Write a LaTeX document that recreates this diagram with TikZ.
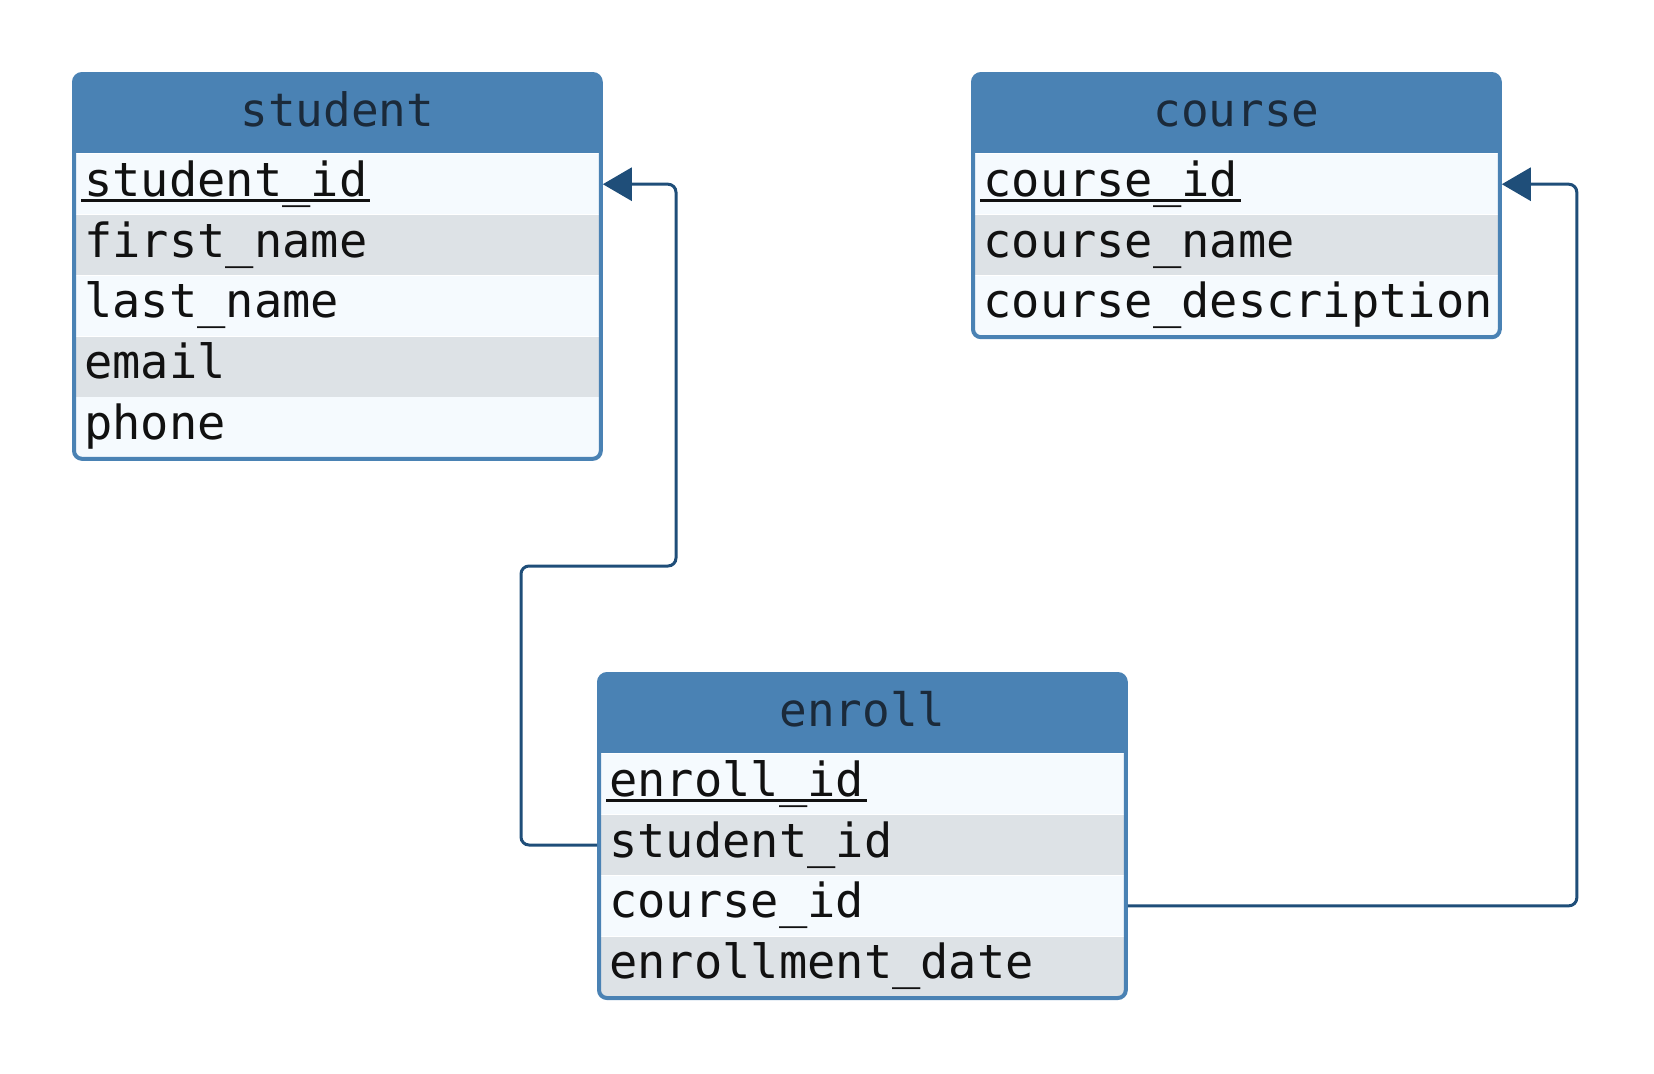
\documentclass[tikz,border=0pt]{standalone}
\usepackage{fontspec}
\setmonofont{DejaVu Sans Mono}
\usetikzlibrary{positioning,fit,arrows.meta}
\definecolor{headblue}{HTML}{4A82B4}
\definecolor{rowlight}{HTML}{F5FAFE}
\definecolor{rowdark}{HTML}{DDE2E6}
\definecolor{linkblue}{HTML}{1F4E79}
\definecolor{headtext}{HTML}{1B2A3A}
\definecolor{fieldtext}{HTML}{111111}
% key field: underlined just below the baseline
\newcommand{\pkey}[1]{\setbox0\hbox{#1}\hbox{\kern-1.5pt\rlap{\rule[-2.8pt]{\dimexpr\wd0+3pt\relax}{1.3pt}}\kern1.5pt\box0}}

\begin{document}
\begin{tikzpicture}[x=0.5pt, y=-0.5pt, node distance=0pt,
        header/.style={fill=headblue, text=headtext, minimum width=262pt, minimum height=39pt,
            inner sep=0pt, text height=17pt, text depth=5pt,
            font=\ttfamily\fontsize{23}{28}\selectfont},
        field/.style={minimum width=262pt, minimum height=30pt, inner xsep=4.5pt, inner ysep=0pt,
            text width=253pt, align=left, text height=17pt, text depth=5pt, text=fieldtext,
            font=\ttfamily\fontsize{23.5}{28}\selectfont},
        light/.style={field, fill=rowlight},
        dark/.style={field, fill=rowdark},
        frame/.style={draw=headblue, line width=2pt, rounded corners=4pt, inner sep=0.5pt},
        link/.style={draw=linkblue, line width=1.5pt, rounded corners=4pt,
            -{Triangle[length=14.5pt, width=16.5pt]}}]
        \useasboundingbox (0,0) rectangle (1654,1073);

        % student
        \node[header, anchor=north west] (student) at (75,75) {student};
        \node[light, below = of student] (student-id) {\pkey{student\_id}};
        \node[dark, below = of student-id] (student-first) {first\_name};
        \node[light, below = of student-first] (student-last) {last\_name};
        \node[dark, below = of student-last] (student-email) {email};
        \node[light, below = of student-email] (student-phone) {phone};
        \node[frame, fit=(student)(student-phone)] (student-box) {};

        % course
        \node[header, anchor=north west] (course) at (974,75) {course};
        \node[light, below = of course] (course-id) {\pkey{course\_id}};
        \node[dark, below = of course-id] (course-name) {course\_name};
        \node[light, below = of course-name] (course-desc) {course\_description};
        \node[frame, fit=(course)(course-desc)] (course-box) {};

        % enroll
        \node[header, anchor=north west] (enroll) at (600,675) {enroll};
        \node[light, below = of enroll] (enroll-id) {\pkey{enroll\_id}};
        \node[dark, below = of enroll-id] (enroll-sid) {student\_id};
        \node[light, below = of enroll-sid] (enroll-cid) {course\_id};
        \node[dark, below = of enroll-cid] (enroll-date) {enrollment\_date};
        \node[frame, fit=(enroll)(enroll-date)] (enroll-box) {};

        \coordinate (sbend) at (676,566);
        \coordinate[right = 39pt of course-id.east] (cbend);
        \draw[link] ([xshift=-1.5pt]enroll-sid.west) -- ++(-76,0) |- (sbend) |- ([xshift=1.5pt]student-id.east);
        \draw[link] ([xshift=1.5pt]enroll-cid.east) -| (cbend) -- ([xshift=1.5pt]course-id.east);
    \end{tikzpicture}
\end{document}
